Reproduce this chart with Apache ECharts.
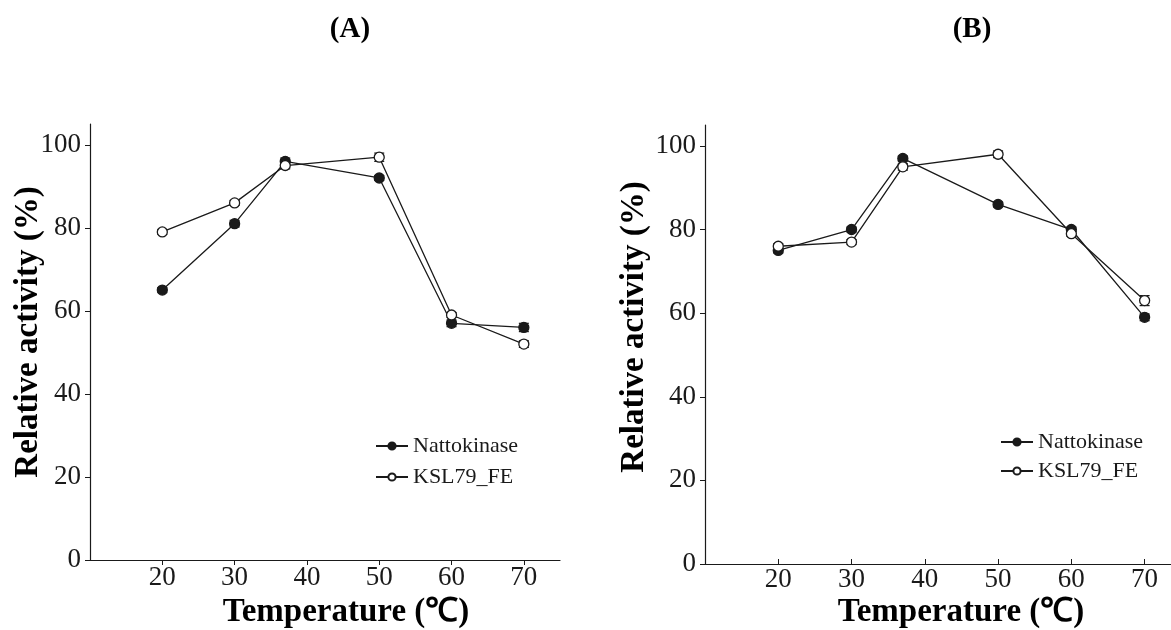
<!DOCTYPE html>
<html>
<head>
<meta charset="utf-8">
<script src="https://cdn.jsdelivr.net/npm/echarts@6/dist/echarts.min.js"></script>
<style>html,body{margin:0;padding:0;background:#fff}#c{width:1171px;height:630px}</style>
</head>
<body>
<div id="c"></div>
<script>
const temps = [20, 30, 37, 50, 60, 70];
const xTicks = [20, 30, 40, 50, 60, 70];
const yTicks = [0, 20, 40, 60, 80, 100];
const seriesNames = ['Nattokinase', 'KSL79_FE'];
const nattoA = [65, 81, 96, 92, 57, 56];
const kslA   = [79, 86, 95, 97, 59, 52];
const nattoB = [75, 80, 97, 86, 80, 59];
const kslB   = [76, 77, 95, 98, 79, 63];
const errNattoA = [0.6, 0.8, 0.8, 0.6, 0.8, 1.0];
const errKslA   = [0.6, 0.6, 0.8, 1.0, 0.6, 0.8];
const errNattoB = [0.6, 0.6, 0.6, 0.6, 0.6, 0.8];
const errKslB   = [0.6, 0.6, 0.8, 0.8, 0.6, 1.2];
const panelTitles = ['(A)', '(B)'];
const xName = 'Temperature (℃)';
const yName = 'Relative activity (%)';

const FONT = '"Liberation Serif", "Times New Roman", serif';
const INK = '#1a1a1a';

const chart = echarts.init(document.getElementById('c'), null, {renderer: 'canvas'});

function pts(vals) { return temps.map((t, i) => [t, vals[i]]); }
function errPts(vals, errs) { return temps.map((t, i) => [t, vals[i], errs[i]]); }

function lineSeries(name, vals, idx, filled) {
  return {
    type: 'line', name: name, xAxisIndex: idx, yAxisIndex: idx,
    data: pts(vals),
    symbol: 'circle', symbolSize: 10,
    lineStyle: {color: INK, width: 1.3},
    itemStyle: {color: filled ? INK : '#fff', borderColor: INK, borderWidth: 1.3},
    z: 3, animation: false
  };
}
function errSeries(vals, errs, idx) {
  return {
    type: 'custom', xAxisIndex: idx, yAxisIndex: idx,
    data: errPts(vals, errs), z: 2, animation: false, silent: true,
    renderItem: function (params, api) {
      const x = api.value(0), y = api.value(1), e = api.value(2);
      const hi = api.coord([x, y + e]), lo = api.coord([x, y - e]);
      const w = 5;
      const st = {stroke: INK, lineWidth: 1.2};
      return {type: 'group', children: [
        {type: 'line', shape: {x1: hi[0], y1: hi[1], x2: lo[0], y2: lo[1]}, style: st},
        {type: 'line', shape: {x1: hi[0] - w, y1: hi[1], x2: hi[0] + w, y2: hi[1]}, style: st},
        {type: 'line', shape: {x1: lo[0] - w, y1: lo[1], x2: lo[0] + w, y2: lo[1]}, style: st}
      ]};
    }
  };
}

function xAxis(idx, max, margin) {
  return {
    type: 'value', gridIndex: idx, min: 10, max: max,
    axisLine: {show: true, lineStyle: {color: INK, width: 1.2}},
    axisTick: {show: true, length: 5, inside: idx === 1, customValues: xTicks, lineStyle: {color: INK}},
    axisLabel: {customValues: xTicks, color: INK, fontFamily: FONT, fontSize: 27, margin: margin},
    splitLine: {show: false}
  };
}
function yAxis(idx) {
  return {
    type: 'value', gridIndex: idx, min: 0, max: 105,
    axisLine: {show: true, lineStyle: {color: INK, width: 1.2}},
    axisTick: {show: true, length: 5, customValues: yTicks, lineStyle: {color: INK}},
    axisLabel: {customValues: yTicks, color: INK, fontFamily: FONT, fontSize: 27, margin: 9},
    splitLine: {show: false}
  };
}

const option = {
  backgroundColor: '#fff',
  animation: false,
  grid: [
    {left: 90, right: 611, top: 124, bottom: 70},
    {left: 705, right: 0, top: 125, bottom: 66}
  ],
  xAxis: [xAxis(0, 75, 4), xAxis(1, 73.6, 2)],
  yAxis: [yAxis(0), yAxis(1)],
  legend: [
    {left: 370, top: 430, orient: 'vertical', itemWidth: 32, itemHeight: 9, itemGap: 9,
     data: seriesNames, textStyle: {fontFamily: FONT, fontSize: 22, color: INK}},
    {left: 995, top: 426, orient: 'vertical', itemWidth: 32, itemHeight: 9, itemGap: 7,
     data: seriesNames, textStyle: {fontFamily: FONT, fontSize: 22, color: INK}}
  ],
  series: [
    errSeries(nattoA, errNattoA, 0), errSeries(kslA, errKslA, 0),
    lineSeries(seriesNames[0], nattoA, 0, true),
    lineSeries(seriesNames[1], kslA, 0, false),
    errSeries(nattoB, errNattoB, 1), errSeries(kslB, errKslB, 1),
    lineSeries(seriesNames[0], nattoB, 1, true),
    lineSeries(seriesNames[1], kslB, 1, false)
  ],
  graphic: [
    {type: 'text', x: 350, y: 30, style: {text: panelTitles[0], font: 'bold 29px ' + FONT, fill: '#000', align: 'center', verticalAlign: 'middle'}},
    {type: 'text', x: 972, y: 30, style: {text: panelTitles[1], font: 'bold 29px ' + FONT, fill: '#000', align: 'center', verticalAlign: 'middle'}},
    {type: 'text', x: 346, y: 612, style: {text: xName, font: 'bold 33px ' + FONT, fill: '#000', align: 'center', verticalAlign: 'middle'}},
    {type: 'text', x: 961, y: 612, style: {text: xName, font: 'bold 33px ' + FONT, fill: '#000', align: 'center', verticalAlign: 'middle'}},
    {type: 'text', x: 28, y: 332, rotation: Math.PI / 2, style: {text: yName, font: 'bold 33px ' + FONT, fill: '#000', align: 'center', verticalAlign: 'middle'}},
    {type: 'text', x: 634, y: 327, rotation: Math.PI / 2, style: {text: yName, font: 'bold 33px ' + FONT, fill: '#000', align: 'center', verticalAlign: 'middle'}}
  ]
};
chart.setOption(option);
</script>
</body>
</html>
